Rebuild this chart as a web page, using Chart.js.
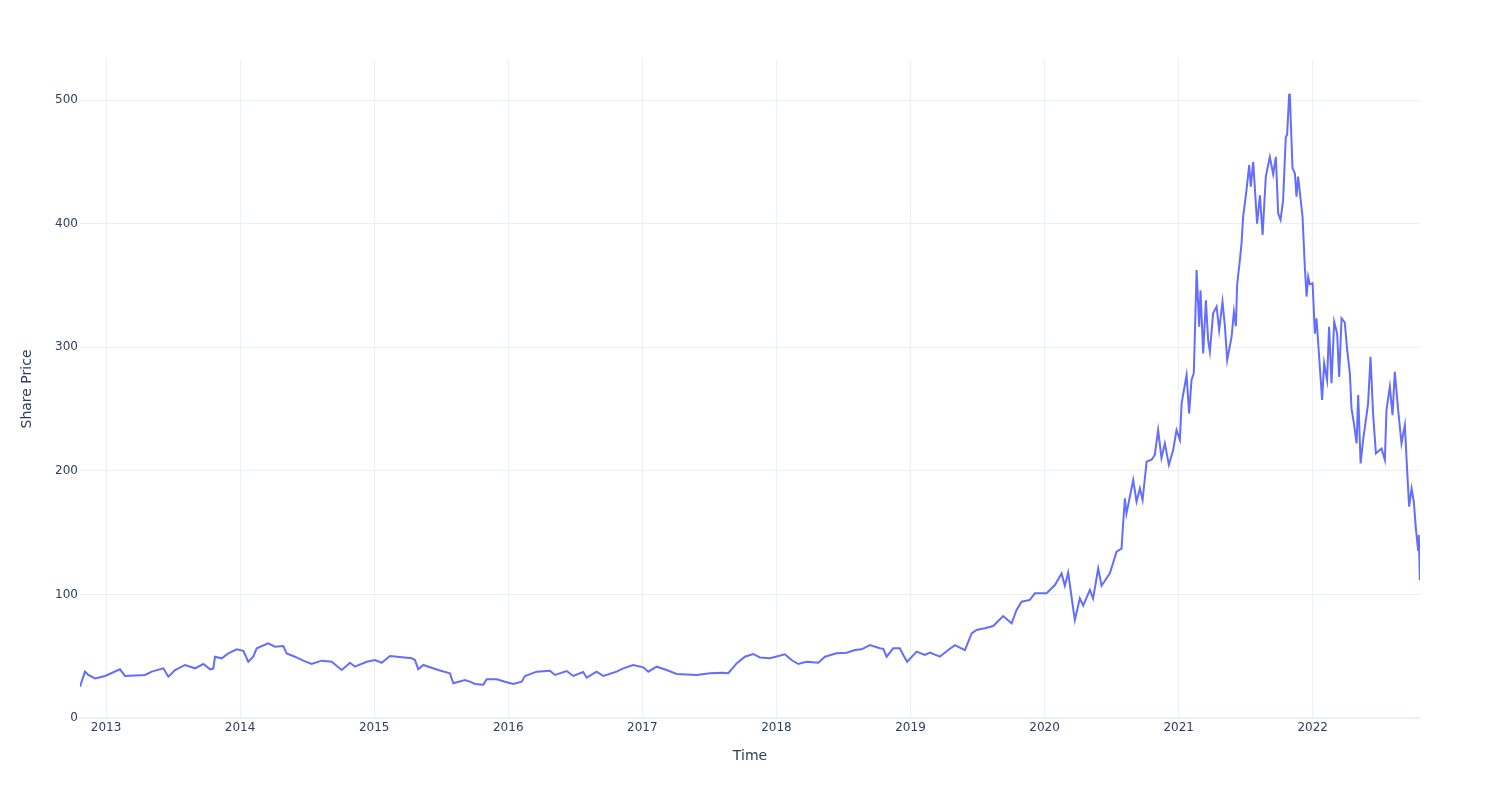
<!DOCTYPE html>
<html>
<head>
<meta charset="utf-8">
<script src="https://cdn.jsdelivr.net/npm/chart.js@4/dist/chart.umd.min.js"></script>
<style>
  html, body { margin: 0; padding: 0; background: #fff; }
  #wrap { width: 1500px; height: 800px; position: relative; }
</style>
</head>
<body>
<div id="wrap"><canvas id="priceChart"></canvas></div>
<script>
// time as decimal year, price
const years = [
  2012.806, 2012.843, 2012.868, 2012.918, 2012.993, 2013.104, 2013.142, 2013.291, 2013.341, 2013.427,
  2013.465, 2013.515, 2013.589, 2013.664, 2013.726, 2013.776, 2013.800, 2013.813, 2013.863, 2013.912,
  2013.975, 2014.024, 2014.061, 2014.098, 2014.124, 2014.210, 2014.260, 2014.322, 2014.347, 2014.409,
  2014.471, 2014.534, 2014.608, 2014.683, 2014.758, 2014.820, 2014.857, 2014.944, 2015.006, 2015.056,
  2015.118, 2015.280, 2015.304, 2015.329, 2015.366, 2015.478, 2015.565, 2015.590, 2015.677, 2015.714,
  2015.752, 2015.814, 2015.839, 2015.914, 2015.975, 2016.037, 2016.100, 2016.125, 2016.212, 2016.311,
  2016.348, 2016.436, 2016.485, 2016.559, 2016.585, 2016.659, 2016.709, 2016.808, 2016.858, 2016.932,
  2017.007, 2017.044, 2017.107, 2017.181, 2017.256, 2017.405, 2017.504, 2017.603, 2017.641, 2017.703,
  2017.765, 2017.827, 2017.877, 2017.952, 2018.063, 2018.113, 2018.163, 2018.225, 2018.312, 2018.362,
  2018.449, 2018.524, 2018.585, 2018.635, 2018.697, 2018.772, 2018.797, 2018.822, 2018.871, 2018.921,
  2018.946, 2018.975, 2019.046, 2019.107, 2019.145, 2019.219, 2019.281, 2019.331, 2019.406, 2019.456,
  2019.493, 2019.555, 2019.617, 2019.691, 2019.754, 2019.791, 2019.829, 2019.890, 2019.928, 2020.015,
  2020.077, 2020.127, 2020.151, 2020.176, 2020.213, 2020.226, 2020.263, 2020.288, 2020.338, 2020.362,
  2020.400, 2020.425, 2020.487, 2020.537, 2020.574, 2020.586, 2020.599, 2020.611, 2020.661, 2020.686,
  2020.711, 2020.731, 2020.761, 2020.798, 2020.822, 2020.847, 2020.872, 2020.897, 2020.927, 2020.959,
  2020.984, 2021.009, 2021.022, 2021.059, 2021.078, 2021.096, 2021.113, 2021.134, 2021.153, 2021.163,
  2021.183, 2021.203, 2021.220, 2021.233, 2021.257, 2021.283, 2021.302, 2021.327, 2021.345, 2021.362,
  2021.395, 2021.412, 2021.427, 2021.436, 2021.456, 2021.469, 2021.481, 2021.506, 2021.526, 2021.538,
  2021.556, 2021.585, 2021.606, 2021.626, 2021.650, 2021.680, 2021.705, 2021.725, 2021.742, 2021.760,
  2021.779, 2021.799, 2021.809, 2021.824, 2021.829, 2021.849, 2021.867, 2021.879, 2021.891, 2021.924,
  2021.941, 2021.954, 2021.966, 2021.978, 2021.999, 2022.016, 2022.028, 2022.053, 2022.070, 2022.085,
  2022.107, 2022.122, 2022.140, 2022.160, 2022.182, 2022.197, 2022.215, 2022.239, 2022.257, 2022.277,
  2022.289, 2022.307, 2022.327, 2022.339, 2022.357, 2022.376, 2022.413, 2022.431, 2022.450, 2022.471,
  2022.513, 2022.538, 2022.550, 2022.575, 2022.595, 2022.612, 2022.637, 2022.662, 2022.687, 2022.704,
  2022.719, 2022.737, 2022.754, 2022.769, 2022.786, 2022.791, 2022.799
];
const prices = [
  25.3, 37.5, 34.8, 32.0, 34.0, 39.4, 34.0, 34.8, 37.5, 40.2,
  33.4, 38.8, 42.9, 40.2, 43.7, 39.4, 40.0, 49.6, 48.3, 52.3,
  55.6, 54.4, 45.5, 49.6, 56.4, 60.4, 57.7, 58.3, 52.3, 49.6,
  46.4, 43.7, 46.4, 45.5, 38.8, 44.7, 41.5, 45.5, 46.9, 44.7,
  50.2, 48.3, 47.0, 39.4, 42.9, 38.8, 36.2, 28.1, 30.7, 29.4,
  27.5, 27.0, 31.3, 31.3, 29.4, 27.5, 29.4, 34.0, 37.5, 38.3,
  34.8, 38.0, 34.0, 37.2, 32.6, 37.5, 34.0, 37.5, 40.2, 42.9,
  41.0, 37.5, 41.5, 38.8, 35.6, 34.8, 36.2, 36.7, 36.2, 44.2,
  49.6, 51.8, 49.0, 48.3, 51.5, 46.9, 43.7, 45.5, 44.7, 49.6,
  52.3, 52.8, 55.0, 55.6, 59.0, 56.4, 56.0, 49.6, 56.4, 56.4,
  51.0, 45.5, 53.7, 51.0, 53.0, 49.6, 55.0, 59.0, 55.0, 68.5,
  71.2, 72.6, 74.4, 82.5, 76.6, 87.4, 94.1, 95.5, 100.9, 100.9,
  107.6, 117.0, 107.0, 117.6, 88.8, 79.3, 96.8, 91.0, 103.6, 96.8,
  121.0, 107.0, 117.0, 134.5, 137.0, 157.4, 177.7, 165.6, 192.6, 175.0,
  185.8, 176.4, 207.4, 209.0, 212.8, 233.0, 210.2, 222.2, 204.7, 216.8,
  233.0, 225.0, 254.6, 277.5, 246.5, 273.5, 279.0, 362.5, 316.6, 346.0,
  295.0, 338.0, 305.8, 296.4, 327.4, 332.8, 313.9, 336.8, 317.0, 289.6,
  308.5, 328.7, 317.0, 350.3, 370.0, 384.0, 405.6, 427.2, 447.4, 430.0,
  450.0, 400.0, 423.0, 390.8, 438.0, 454.0, 440.0, 454.0, 408.3, 403.0,
  419.0, 470.0, 472.0, 504.0, 505.3, 445.0, 440.6, 421.8, 438.0, 405.6,
  365.0, 341.0, 357.0, 351.0, 351.7, 311.0, 323.4, 284.0, 257.3, 287.0,
  273.5, 316.6, 270.8, 320.6, 311.0, 276.0, 323.4, 320.0, 297.7, 279.0,
  250.6, 238.4, 222.2, 261.3, 206.0, 225.0, 254.6, 292.3, 246.5, 214.0,
  218.0, 208.7, 249.2, 268.0, 245.0, 280.2, 249.2, 222.2, 237.0, 200.6,
  171.0, 185.8, 175.0, 153.5, 136.0, 148.0, 111.7
];
const xTicks = [2013, 2014, 2015, 2016, 2017, 2018, 2019, 2020, 2021, 2022];
const yTicks = [0, 100, 200, 300, 400, 500];

const textColor = '#2a3f5f';
const gridColor = '#ebf0f8';
const fontFamily = '"DejaVu Sans", Verdana, sans-serif';

document.addEventListener('DOMContentLoaded', () => {
    const ctx = document.getElementById('priceChart');
    const points = years.map((yr, i) => ({ x: yr, y: prices[i] }));

    new Chart(ctx, {
        type: 'line',
        data: {
            datasets: [{
                label: 'Share Price',
                data: points,
                borderColor: '#636efa',
                borderWidth: 2,
                pointRadius: 0,
                tension: 0,
                fill: false
            }]
        },
        options: {
            responsive: true,
            maintainAspectRatio: false,
            animation: false,
            layout: { padding: { top: 60, right: 80, bottom: 0, left: 0 } },
            plugins: { legend: { display: false }, tooltip: { enabled: false } },
            scales: {
                x: {
                    type: 'linear',
                    min: 2012.806,
                    max: 2022.8,
                    afterBuildTicks: (scale) => { scale.ticks = xTicks.map(v => ({ value: v })); },
                    afterFit: (scale) => { scale.height = 82; },
                    ticks: {
                        color: textColor,
                        font: { family: fontFamily, size: 12 },
                        padding: 3,
                        maxRotation: 0,
                        callback: (v) => String(v)
                    },
                    grid: { color: gridColor, lineWidth: 1, drawTicks: false },
                    border: { display: false },
                    title: {
                        display: true,
                        text: 'Time',
                        color: textColor,
                        font: { family: fontFamily, size: 14 },
                        padding: { top: 0, bottom: 35 }
                    }
                },
                y: {
                    min: 0,
                    max: 532.4,
                    afterBuildTicks: (scale) => { scale.ticks = yTicks.map(v => ({ value: v })); },
                    afterFit: (scale) => { scale.width = 80; },
                    ticks: {
                        color: textColor,
                        font: { family: fontFamily, size: 12 },
                        padding: 2
                    },
                    grid: {
                        color: gridColor,
                        lineWidth: (c) => (c.tick && c.tick.value === 0 ? 2 : 1),
                        drawTicks: false
                    },
                    border: { display: false },
                    title: {
                        display: true,
                        text: 'Share Price',
                        color: textColor,
                        font: { family: fontFamily, size: 14 },
                        padding: { top: 19, bottom: 0 }
                    }
                }
            }
        }
    });
});
</script>
</body>
</html>
